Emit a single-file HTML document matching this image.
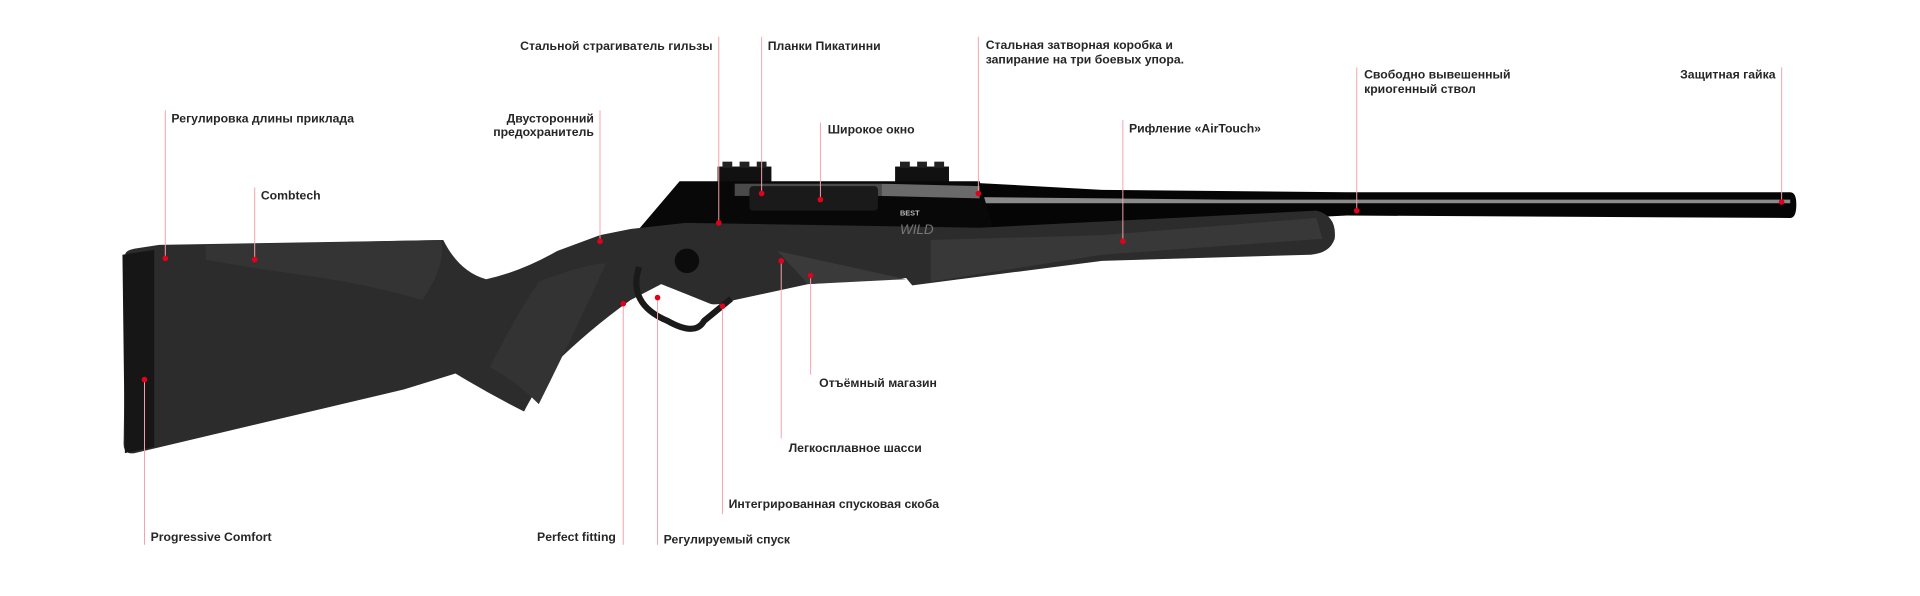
<!DOCTYPE html>
<html><head><meta charset="utf-8"><style>
html,body{margin:0;padding:0;background:#fff;}
svg{display:block}
text{font-family:"Liberation Sans","DejaVu Sans",sans-serif;font-weight:bold;font-size:10px;fill:#262626}
</style></head><body>
<svg width="1920" height="596" viewBox="0 0 1568 486.7" xmlns="http://www.w3.org/2000/svg">
<!-- barrel -->
<path d="M790,149 L900,155 L1100,157 L1462,157 Q1467,157 1467,167 Q1467,178 1462,178 L1100,176 L900,186 L790,190 Z" fill="#050505"/>
<path d="M800,161 L1000,163 L1462,163 L1462,166 L1000,166 L800,166 Z" fill="#8a8a8a"/>
<!-- rails -->
<rect x="586" y="136" width="44" height="14" fill="#111"/>
<rect x="590" y="132" width="8" height="5" fill="#222"/><rect x="604" y="132" width="8" height="5" fill="#222"/><rect x="618" y="132" width="8" height="5" fill="#222"/>
<rect x="731" y="136" width="44" height="14" fill="#111"/>
<rect x="735" y="132" width="8" height="5" fill="#222"/><rect x="749" y="132" width="8" height="5" fill="#222"/><rect x="763" y="132" width="8" height="5" fill="#222"/>
<!-- receiver -->
<path d="M555,148 L800,148 L812,190 L800,200 L580,200 L515,195 Z" fill="#080808"/>
<rect x="600" y="150" width="120" height="10" fill="#4a4a4a"/>
<rect x="612" y="152" width="105" height="20" rx="3" fill="#1a1a1a"/>
<path d="M720,150 L800,152 L800,162 L720,160 Z" fill="#6a6a6a"/>
<!-- stock -->
<path d="M103,210 Q100,205 110,203 L130,200 L362,196 Q375,222 397,228 Q425,222 455,205 L490,192 L515,187 L560,182 L800,186 L1075,172 Q1092,176 1090,195 Q1086,207 1070,208 L900,213 L745,233 L740,227 L660,232 L600,245 Q585,250 580,248 L560,240 L540,232 L515,245 Q480,270 450,300 Q435,322 428,336 Q400,322 372,305 L330,318 L110,370 Q100,372 101,360 Z" fill="#2c2c2c"/>
<path d="M168,200 L360,196 Q365,215 345,245 Q300,232 250,225 Q200,218 168,212 Z" fill="#343434"/>
<path d="M760,196 L900,192 L1075,178 L1080,195 L900,208 L760,230 Z" fill="#383838"/>
<path d="M635,205 L740,228 L660,232 Z" fill="#3a3a3a"/>
<path d="M100,208 L126,204 L126,365 L102,370 Z" fill="#161616"/>
<path d="M440,230 Q480,215 495,215 Q470,270 440,330 Q420,310 400,300 Q420,260 440,230 Z" fill="#333"/>
<!-- trigger guard -->
<path d="M522,218 Q512,248 545,262 Q568,275 575,262 L597,244" fill="none" stroke="#1a1a1a" stroke-width="5"/>
<circle cx="561" cy="213" r="10" fill="#0c0c0c"/>
<text x="735" y="191" style="font-style:italic;font-weight:normal;font-size:11px;fill:#777">WILD</text>
<text x="735" y="176" style="font-size:6px;fill:#bbb">BEST</text>
<!-- leader lines -->
<g stroke="#f5a3ad" stroke-width="0.8" fill="none">
<line x1="587" y1="30" x2="587" y2="182"/>
<line x1="622" y1="30" x2="622" y2="158"/>
<line x1="799" y1="30" x2="799" y2="158"/>
<line x1="1108" y1="55" x2="1108" y2="172"/>
<line x1="1455" y1="55" x2="1455" y2="165"/>
<line x1="135" y1="90" x2="135" y2="211"/>
<line x1="490" y1="90" x2="490" y2="197"/>
<line x1="670" y1="100" x2="670" y2="163"/>
<line x1="917" y1="98" x2="917" y2="197"/>
<line x1="208" y1="153" x2="208" y2="212"/>
<line x1="662" y1="225" x2="662" y2="306"/>
<line x1="638" y1="213" x2="638" y2="358"/>
<line x1="590" y1="250" x2="590" y2="420"/>
<line x1="118" y1="310" x2="118" y2="445"/>
<line x1="509" y1="248" x2="509" y2="445"/>
<line x1="537" y1="243" x2="537" y2="445"/>
</g>
<g fill="#e3001b">
<circle cx="587" cy="182" r="2.3"/><circle cx="622" cy="158" r="2.3"/><circle cx="799" cy="158" r="2.3"/>
<circle cx="1108" cy="172" r="2.3"/><circle cx="1455" cy="165" r="2.3"/><circle cx="135" cy="211" r="2.3"/>
<circle cx="490" cy="197" r="2.3"/><circle cx="670" cy="163" r="2.3"/><circle cx="917" cy="197" r="2.3"/>
<circle cx="208" cy="212" r="2.3"/><circle cx="662" cy="225" r="2.3"/><circle cx="638" cy="213" r="2.3"/>
<circle cx="590" cy="250" r="2.3"/><circle cx="118" cy="310" r="2.3"/><circle cx="509" cy="248" r="2.3"/>
<circle cx="537" cy="243" r="2.3"/>
</g>
<!-- labels -->
<text x="582" y="41" text-anchor="end">Стальной страгиватель гильзы</text>
<text x="627" y="41">Планки Пикатинни</text>
<text x="805" y="40">Стальная затворная коробка и</text>
<text x="805" y="52">запирание на три боевых упора.</text>
<text x="1114" y="64">Свободно вывешенный</text>
<text x="1114" y="76">криогенный ствол</text>
<text x="1450" y="64" text-anchor="end">Защитная гайка</text>
<text x="140" y="100">Регулировка длины приклада</text>
<text x="485" y="100" text-anchor="end">Двусторонний</text>
<text x="485" y="111" text-anchor="end">предохранитель</text>
<text x="676" y="109">Широкое окно</text>
<text x="922" y="108">Рифление «AirTouch»</text>
<text x="213" y="163">Combtech</text>
<text x="669" y="316">Отъёмный магазин</text>
<text x="644" y="369">Легкосплавное шасси</text>
<text x="595" y="415">Интегрированная спусковая скоба</text>
<text x="123" y="442">Progressive Comfort</text>
<text x="503" y="442" text-anchor="end">Perfect fitting</text>
<text x="542" y="444">Регулируемый спуск</text>
</svg>
</body></html>
